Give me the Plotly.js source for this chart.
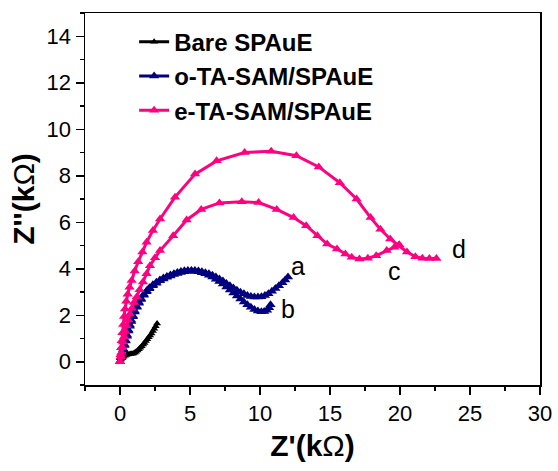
<!DOCTYPE html>
<html>
<head>
<meta charset="utf-8">
<script src="https://cdn.plot.ly/plotly-3.0.1.min.js"></script>
<style>html,body{margin:0;padding:0;background:#fff;}#chart{width:558px;height:471px;}</style>
</head>
<body>
<div id="chart"></div>
<script>
// Bare SPAuE
const bareX = [0,0.08,0.16,0.25,0.35,0.45,0.55,0.65,0.75,0.85,0.95,1.05,1.15,1.25,1.35,1.45,1.55,1.65,1.75,1.85,1.95,2.05,2.15,2.25,2.35,2.45,2.55,2.65];
const bareY = [0,0.1,0.17,0.22,0.26,0.29,0.31,0.32,0.33,0.34,0.36,0.39,0.43,0.48,0.54,0.6,0.67,0.74,0.81,0.89,0.97,1.05,1.13,1.22,1.32,1.42,1.53,1.65];
// o-TA-SAM/SPAuE, curve a
const aX = [0,0.08,0.16,0.24,0.32,0.4,0.5,0.6,0.7,0.8,0.92,1.05,1.2,1.35,1.5,1.7,1.9,2.1,2.35,2.6,2.85,3.1,3.35,3.6,3.85,4.1,4.35,4.6,4.85,5.1,5.35,5.6,5.85,6.1,6.35,6.6,6.85,7.1,7.35,7.6,7.85,8.1,8.35,8.6,8.85,9.1,9.35,9.6,9.85,10.1,10.35,10.6,10.85,11.1,11.35,11.6,11.8,12.0];
const aY = [0,0.18,0.36,0.55,0.74,0.93,1.15,1.37,1.58,1.78,1.98,2.18,2.38,2.56,2.72,2.9,3.05,3.18,3.31,3.42,3.52,3.6,3.67,3.73,3.79,3.84,3.88,3.91,3.92,3.93,3.92,3.9,3.87,3.83,3.78,3.72,3.64,3.56,3.47,3.37,3.27,3.17,3.08,2.99,2.92,2.85,2.81,2.78,2.78,2.8,2.85,2.93,3.03,3.15,3.27,3.4,3.52,3.65];
// o-TA-SAM/SPAuE, curve b
const bX = [0,0.08,0.16,0.24,0.32,0.4,0.5,0.6,0.7,0.8,0.92,1.05,1.2,1.35,1.5,1.7,1.9,2.1,2.35,2.6,2.85,3.1,3.35,3.6,3.85,4.1,4.35,4.6,4.85,5.1,5.35,5.6,5.85,6.1,6.35,6.6,6.85,7.1,7.35,7.6,7.85,8.1,8.35,8.6,8.85,9.1,9.35,9.6,9.85,10.1,10.3,10.5,10.65,10.75];
const bY = [0,0.17,0.34,0.52,0.7,0.89,1.1,1.32,1.53,1.73,1.94,2.14,2.34,2.52,2.68,2.86,3.01,3.14,3.27,3.38,3.48,3.56,3.63,3.69,3.75,3.8,3.84,3.87,3.89,3.9,3.89,3.87,3.83,3.78,3.72,3.64,3.55,3.45,3.34,3.22,3.09,2.96,2.83,2.7,2.57,2.45,2.34,2.25,2.18,2.15,2.16,2.22,2.32,2.45];
// e-TA-SAM/SPAuE, curve d
const dX = [0,0.04,0.08,0.12,0.17,0.23,0.29,0.36,0.45,0.55,0.68,0.83,1.05,1.3,1.6,1.9,2.35,2.86,3.93,5.36,6.9,8.9,10.8,12.6,14.2,15.7,16.9,17.9,18.6,19.3,19.9,20.5,21.1,21.6,22.1,22.6];
const dY = [0,0.3,0.6,0.9,1.25,1.6,1.95,2.27,2.6,2.9,3.2,3.5,3.9,4.3,4.72,5.14,5.65,6.14,7.08,8.07,8.64,9.0,9.05,8.86,8.38,7.7,7.0,6.2,5.7,5.28,5.0,4.72,4.52,4.45,4.44,4.44];
// e-TA-SAM/SPAuE, curve c
const cX = [0,0.05,0.1,0.16,0.22,0.3,0.38,0.47,0.58,0.7,0.85,1.0,1.19,1.4,1.64,1.9,2.14,2.5,2.86,3.8,4.76,5.8,7.1,8.7,9.9,11.2,12.4,13.3,14.1,14.8,15.5,16.1,16.55,17.1,17.7,18.3,19.05,19.6,19.95];
const cY = [0,0.2,0.4,0.62,0.85,1.08,1.3,1.55,1.8,2.05,2.3,2.55,2.78,3.1,3.43,3.78,4.13,4.47,4.78,5.42,6.1,6.55,6.83,6.88,6.85,6.55,6.2,5.85,5.42,5.06,4.85,4.63,4.49,4.42,4.45,4.56,4.78,4.93,5.03];

const labels = ['a','b','c','d'];
const labelX = [12.7,12.0,19.6,24.2];
const labelY = [4.1,2.25,3.9,4.85];

const navy = '#000080', pink = '#FF0080';
const FONT = 'Arial, Liberation Sans, sans-serif';
function tr(x,y,name,color,msize,show,group){
  return {x:x,y:y,name:name,type:'scatter',mode:'lines+markers',showlegend:show,legendgroup:group,
    line:{color:color,width:3},marker:{symbol:'triangle-up',size:msize,color:color}};
}
const traces = [
  tr(bareX,bareY,'Bare SPAuE','#000000',7,true,'g1'),
  tr(aX,aY,'o-TA-SAM/SPAuE',navy,9,true,'g2'),
  tr(bX,bY,'o-TA-SAM/SPAuE',navy,9,false,'g2b'),
  tr(dX,dY,'e-TA-SAM/SPAuE',pink,9,true,'g3'),
  tr(cX,cY,'e-TA-SAM/SPAuE',pink,9,false,'g3b')
];

const ann = labels.map((t,i)=>({x:labelX[i],y:labelY[i],text:t,showarrow:false,xref:'x',yref:'y',
  font:{family:FONT,size:25,color:'#000'}}));

const axisCommon = {showline:true,mirror:true,linecolor:'#000',linewidth:1.5,ticks:'outside',ticklen:8,tickwidth:1.5,tickcolor:'#000',
  showgrid:false,zeroline:false,tickfont:{family:FONT,size:22,color:'#000'}};

const layout = {
  width:558,height:471,margin:{l:85,r:18,t:13,b:86},
  paper_bgcolor:'#fff',plot_bgcolor:'#fff',
  font:{family:FONT,color:'#000'},
  xaxis:Object.assign({},axisCommon,{range:[-2.5,30],tick0:0,dtick:5,
    minor:{dtick:2.5,tick0:0,ticks:'outside',ticklen:4,tickwidth:1.5,tickcolor:'#000'},
    title:{text:"<b>Z'(k</b>Ω<b>)</b>",font:{size:30,family:FONT,color:'#000'},standoff:10}}),
  yaxis:Object.assign({},axisCommon,{range:[-1,15],tick0:0,dtick:2,
    minor:{dtick:1,tick0:0,ticks:'outside',ticklen:4,tickwidth:1.5,tickcolor:'#000'},
    title:{text:"<b>Z''(k</b>Ω<b>)</b>",font:{size:30,family:FONT,color:'#000'},standoff:3}}),
  legend:{x:0.108,y:0.982,xanchor:'left',yanchor:'top',bgcolor:'rgba(0,0,0,0)',tracegroupgap:0,
    font:{family:FONT,size:24,color:'#000',weight:'bold'}},
  annotations:ann
};
Plotly.newPlot('chart',traces,layout,{displayModeBar:false,staticPlot:true});
</script>
</body>
</html>
